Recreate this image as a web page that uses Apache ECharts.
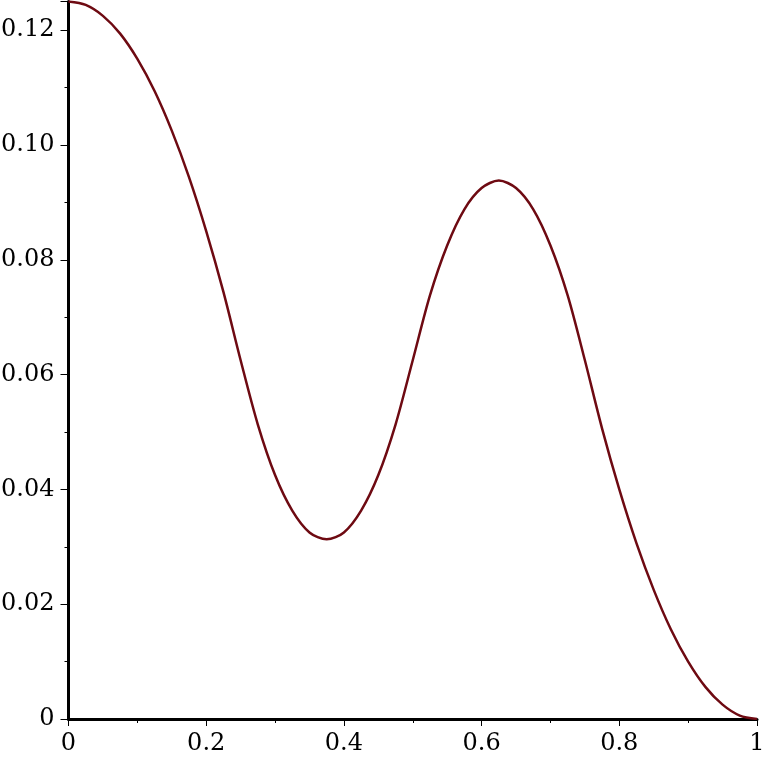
<!DOCTYPE html>
<html>
<head>
<meta charset="utf-8">
<script src="https://cdn.jsdelivr.net/npm/echarts@6/dist/echarts.min.js"></script>
<style>
  html, body { margin: 0; padding: 0; background: #fff; }
  #chart { width: 763px; height: 759px; }
</style>
</head>
<body>
<div id="chart"></div>
<script>
// values, every 0.025 along x
const xs = [0, 0.025, 0.05, 0.075, 0.1, 0.125, 0.15, 0.175, 0.2, 0.225,
  0.25, 0.275, 0.3, 0.325, 0.35, 0.375, 0.4, 0.425, 0.45, 0.475,
  0.5, 0.525, 0.55, 0.575, 0.6, 0.625, 0.65, 0.675, 0.7, 0.725,
  0.75, 0.775, 0.8, 0.825, 0.85, 0.875, 0.9, 0.925, 0.95, 0.975, 1];
const ys = [0.1250, 0.1244, 0.1225, 0.1194, 0.1150, 0.1094, 0.1025, 0.0944, 0.0850, 0.0744,
  0.0625, 0.0513, 0.0425, 0.0363, 0.0325, 0.0313, 0.0325, 0.0363, 0.0425, 0.0513,
  0.0625, 0.0738, 0.0825, 0.0888, 0.0925, 0.0938, 0.0925, 0.0888, 0.0825, 0.0738,
  0.0625, 0.0506, 0.0400, 0.0306, 0.0225, 0.0156, 0.0100, 0.0056, 0.0025, 0.0006, 0];

const font = { fontFamily: "DejaVu Serif", fontSize: 24, color: "#000" };
const axisLine = { lineStyle: { color: "#000", width: 3 } };

const chart = echarts.init(document.getElementById("chart"));

const option = {
  animation: false,
  backgroundColor: "#fff",
  grid: { left: 68.5, right: 6, top: 1.5, bottom: 40, outerBoundsMode: "none", containLabel: false },
  xAxis: {
    type: "value", min: 0, max: 1, interval: 0.2,
    axisLine, splitLine: { show: false },
    axisTick: { length: 7, lineStyle: { color: "#000", width: 1 } },
    minorTick: { show: true, splitNumber: 2, length: 4, lineStyle: { color: "#000", width: 1 } },
    axisLabel: { ...font, margin: 13, formatter: v => v === 0 ? "0" : v === 1 ? "1" : v.toFixed(1) }
  },
  yAxis: {
    type: "value", min: 0, max: 0.125, interval: 0.02,
    axisLine, splitLine: { show: false },
    axisTick: { length: 8, lineStyle: { color: "#000", width: 1 } },
    minorTick: { show: true, splitNumber: 2, length: 4, lineStyle: { color: "#000", width: 1 } },
    axisLabel: { ...font, margin: 14, showMaxLabel: false, formatter: v => v === 0 ? "0" : v.toFixed(2) }
  },
  series: [{
    type: "line",
    data: xs.map((x, i) => [x, ys[i]]),
    smooth: 0.3,
    showSymbol: false,
    lineStyle: { color: "#6e0a12", width: 2.5 }
  }]
};

chart.setOption(option);
</script>
</body>
</html>
